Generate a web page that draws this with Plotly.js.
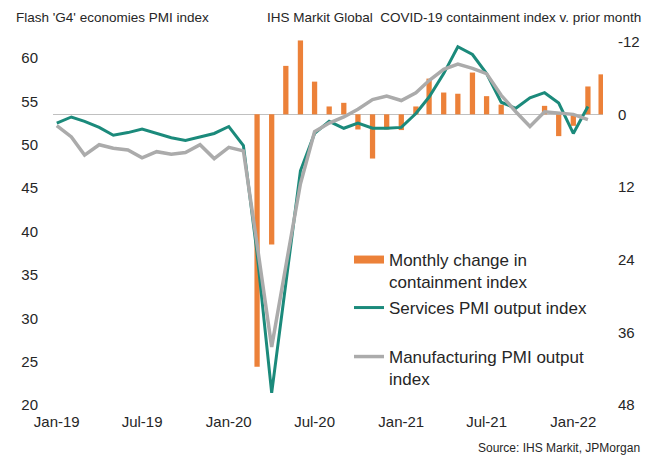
<!DOCTYPE html>
<html>
<head>
<meta charset="utf-8">
<script src="https://cdn.plot.ly/plotly-3.0.1.min.js"></script>
<style>html,body{margin:0;padding:0;background:#fff;}#chart{width:656px;height:456px;}</style>
</head>
<body>
<div id="chart"></div>
<script>
// Months (Jan-19 .. Mar-22)
const months = [
  '2019-01-01','2019-02-01','2019-03-01','2019-04-01','2019-05-01','2019-06-01',
  '2019-07-01','2019-08-01','2019-09-01','2019-10-01','2019-11-01','2019-12-01',
  '2020-01-01','2020-02-01','2020-03-01','2020-04-01','2020-05-01','2020-06-01',
  '2020-07-01','2020-08-01','2020-09-01','2020-10-01','2020-11-01','2020-12-01',
  '2021-01-01','2021-02-01','2021-03-01','2021-04-01','2021-05-01','2021-06-01',
  '2021-07-01','2021-08-01','2021-09-01','2021-10-01','2021-11-01','2021-12-01',
  '2022-01-01','2022-02-01','2022-03-01'
];

// Services PMI output index (left axis)
const servicesPMI = [
  52.5, 53.2, 52.7, 52.0, 51.1, 51.4, 51.8, 51.3, 50.8, 50.5, 50.9, 51.3,
  52.1, 49.9, 37.5, 21.4, 34.0, 47.0, 51.3, 52.7, 51.9, 52.5, 51.9, 51.9,
  52.0, 53.6, 55.5, 58.2, 61.3, 60.4, 58.2, 54.9, 54.2, 55.4, 56.0, 54.8,
  51.3, 54.4, null
];

// Manufacturing PMI output index (left axis)
const manufacturingPMI = [
  52.2, 50.9, 48.8, 50.0, 49.6, 49.4, 48.5, 49.2, 48.9, 49.1, 50.0, 48.4,
  49.7, 49.3, 38.5, 26.7, 36.0, 45.5, 51.5, 52.5, 53.2, 54.1, 55.2, 55.6,
  55.1, 56.0, 57.4, 58.7, 59.3, 58.8, 58.2, 55.7, 53.8, 52.1, 53.8, 53.7,
  53.5, 52.9, null
];

// Monthly change in containment index (right axis, inverted)
const containmentChange = [
  null, null, null, null, null, null, null, null, null, null, null, null,
  null, null, 41.7, 21.5, -8.0, -12.2, -5.4, -1.3, -1.9, 2.5, 7.3, 2.5,
  2.6, -1.3, -5.9, -3.6, -3.4, -6.9, -3.0, -1.6, 0, 0, -1.4, 3.6,
  1.9, -4.6, -6.6
];

// Tick labels
const leftTicks = [20, 25, 30, 35, 40, 45, 50, 55, 60];
const rightTickVals = [-12, 0, 12, 24, 36, 48];
const rightTickText = ['-12', '0', '12', '24', '36', '48'];

const ORANGE = '#EC8139';
const TEAL = '#1B8A7B';
const GREY = '#ABABAB';
const TXT = '#262626';
const FONT = 'Liberation Sans, Arial, sans-serif';

const traces = [
  {
    type: 'bar', x: months, y: containmentChange, yaxis: 'y',
    marker: {color: ORANGE}, showlegend: false, hoverinfo: 'skip'
  },
  {
    type: 'scatter', mode: 'lines', x: [null], y: [null], yaxis: 'y',
    name: 'Monthly change in<br>containment index',
    line: {color: ORANGE, width: 8}, legend: 'legend', showlegend: true
  },
  {
    type: 'scatter', mode: 'lines', x: months, y: servicesPMI, yaxis: 'y2',
    name: 'Services PMI output index',
    line: {color: TEAL, width: 3}, legend: 'legend2'
  },
  {
    type: 'scatter', mode: 'lines', x: months, y: manufacturingPMI, yaxis: 'y2',
    name: 'Manufacturing PMI output<br>index',
    line: {color: GREY, width: 3.5}, legend: 'legend3'
  }
];

const L = 53, R = 53, T = 35, B = 51, W = 656, H = 456;
const pw = W - L - R, ph = H - T - B;
const px = v => (v - L) / pw;
const py = v => (H - B - v) / ph;

const legendCommon = {
  xanchor: 'left', yanchor: 'top', valign: 'top',
  bgcolor: 'rgba(0,0,0,0)', borderwidth: 0,
  font: {family: FONT, size: 17, color: TXT},
  tracegroupgap: 0
};

const layout = {
  width: W, height: H,
  margin: {l: L, r: R, t: T, b: B, pad: 0},
  paper_bgcolor: '#fff', plot_bgcolor: '#fff',
  font: {family: FONT, color: TXT},
  bargap: 0.6,
  xaxis: {
    type: 'date', range: ['2018-12-24', '2022-03-05'],
    tickformat: '%b-%y', dtick: 'M6', tick0: '2019-01-01',
    showgrid: false, zeroline: false, showline: false, ticks: '',
    ticklabelstandoff: 6,
    tickfont: {family: FONT, size: 15, color: TXT}
  },
  yaxis: {
    side: 'right', range: [48, -13.1],
    tickvals: rightTickVals, ticktext: rightTickText,
    showgrid: false, showline: false, ticks: '',
    zeroline: true, zerolinecolor: '#C0C0C0', zerolinewidth: 1.5,
    ticklabelstandoff: 14,
    tickfont: {family: FONT, size: 15, color: TXT}
  },
  yaxis2: {
    overlaying: 'y', side: 'left', range: [20, 62.65],
    tickvals: leftTicks,
    showgrid: false, showline: false, zeroline: false, ticks: '',
    ticklabelstandoff: 14,
    tickfont: {family: FONT, size: 15, color: TXT}
  },
  legend: Object.assign({x: px(349), y: py(242)}, legendCommon),
  legend2: Object.assign({x: px(349), y: py(290)}, legendCommon),
  legend3: Object.assign({x: px(349), y: py(339)}, legendCommon),
  annotations: [
    {text: "Flash 'G4' economies PMI index", xref: 'paper', yref: 'paper',
     x: px(14), y: py(17), xanchor: 'left', yanchor: 'middle', showarrow: false,
     font: {family: FONT, size: 13.5, color: TXT}},
    {text: 'IHS Markit Global  COVID-19 containment index v. prior month', xref: 'paper', yref: 'paper',
     x: px(643), y: py(17), xanchor: 'right', yanchor: 'middle', showarrow: false,
     font: {family: FONT, size: 13.5, color: TXT}},
    {text: 'Source: IHS Markit, JPMorgan', xref: 'paper', yref: 'paper',
     x: px(642), y: py(448), xanchor: 'right', yanchor: 'middle', showarrow: false,
     font: {family: FONT, size: 12, color: TXT}}
  ],
  showlegend: true,
  hovermode: false
};

Plotly.newPlot('chart', traces, layout, {staticPlot: true, displayModeBar: false});
</script>
</body>
</html>
